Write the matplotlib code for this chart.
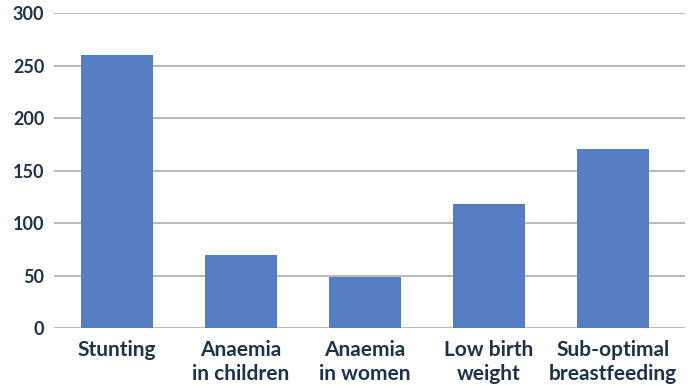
import matplotlib
matplotlib.use("Agg")
import matplotlib.pyplot as plt
import numpy as np

# Data
categories = ["Stunting", "Anaemia\nin children", "Anaemia\nin women",
              "Low birth\nweight", "Sub-optimal\nbreastfeeding"]
values = [260, 70, 49, 118, 171]
yticks = [0, 50, 100, 150, 200, 250, 300]

TEXT_COLOR = "#1f3348"
BAR_COLOR = "#557dbf"
GRID_COLOR = "#a6a6a6"

plt.rcParams["font.family"] = ["Lato", "DejaVu Sans"]

fig = plt.figure(figsize=(6.92, 3.85), dpi=100)
ax = fig.add_axes([0.078, 0.1468, 0.912, 0.8194])

x = np.arange(len(categories))
ax.bar(x, values, width=0.58, color=BAR_COLOR, zorder=3)

ax.set_ylim(0, 300)
ax.set_xlim(-0.508, 4.58)
ax.set_yticks(yticks)
ax.set_xticks(x)
ax.set_xticklabels(categories, linespacing=1.25)
ax.yaxis.grid(True, color=GRID_COLOR, linewidth=1.1, zorder=0)
ax.set_axisbelow(True)

for spine in ax.spines.values():
    spine.set_visible(False)

ax.tick_params(axis="both", length=0, labelcolor=TEXT_COLOR)
ax.tick_params(axis="x", pad=8, labelsize=15)
ax.tick_params(axis="y", pad=7, labelsize=13)
for lbl in ax.get_xticklabels() + ax.get_yticklabels():
    lbl.set_fontweight("bold")

plt.savefig("out.png", dpi=100)
plt.close()
